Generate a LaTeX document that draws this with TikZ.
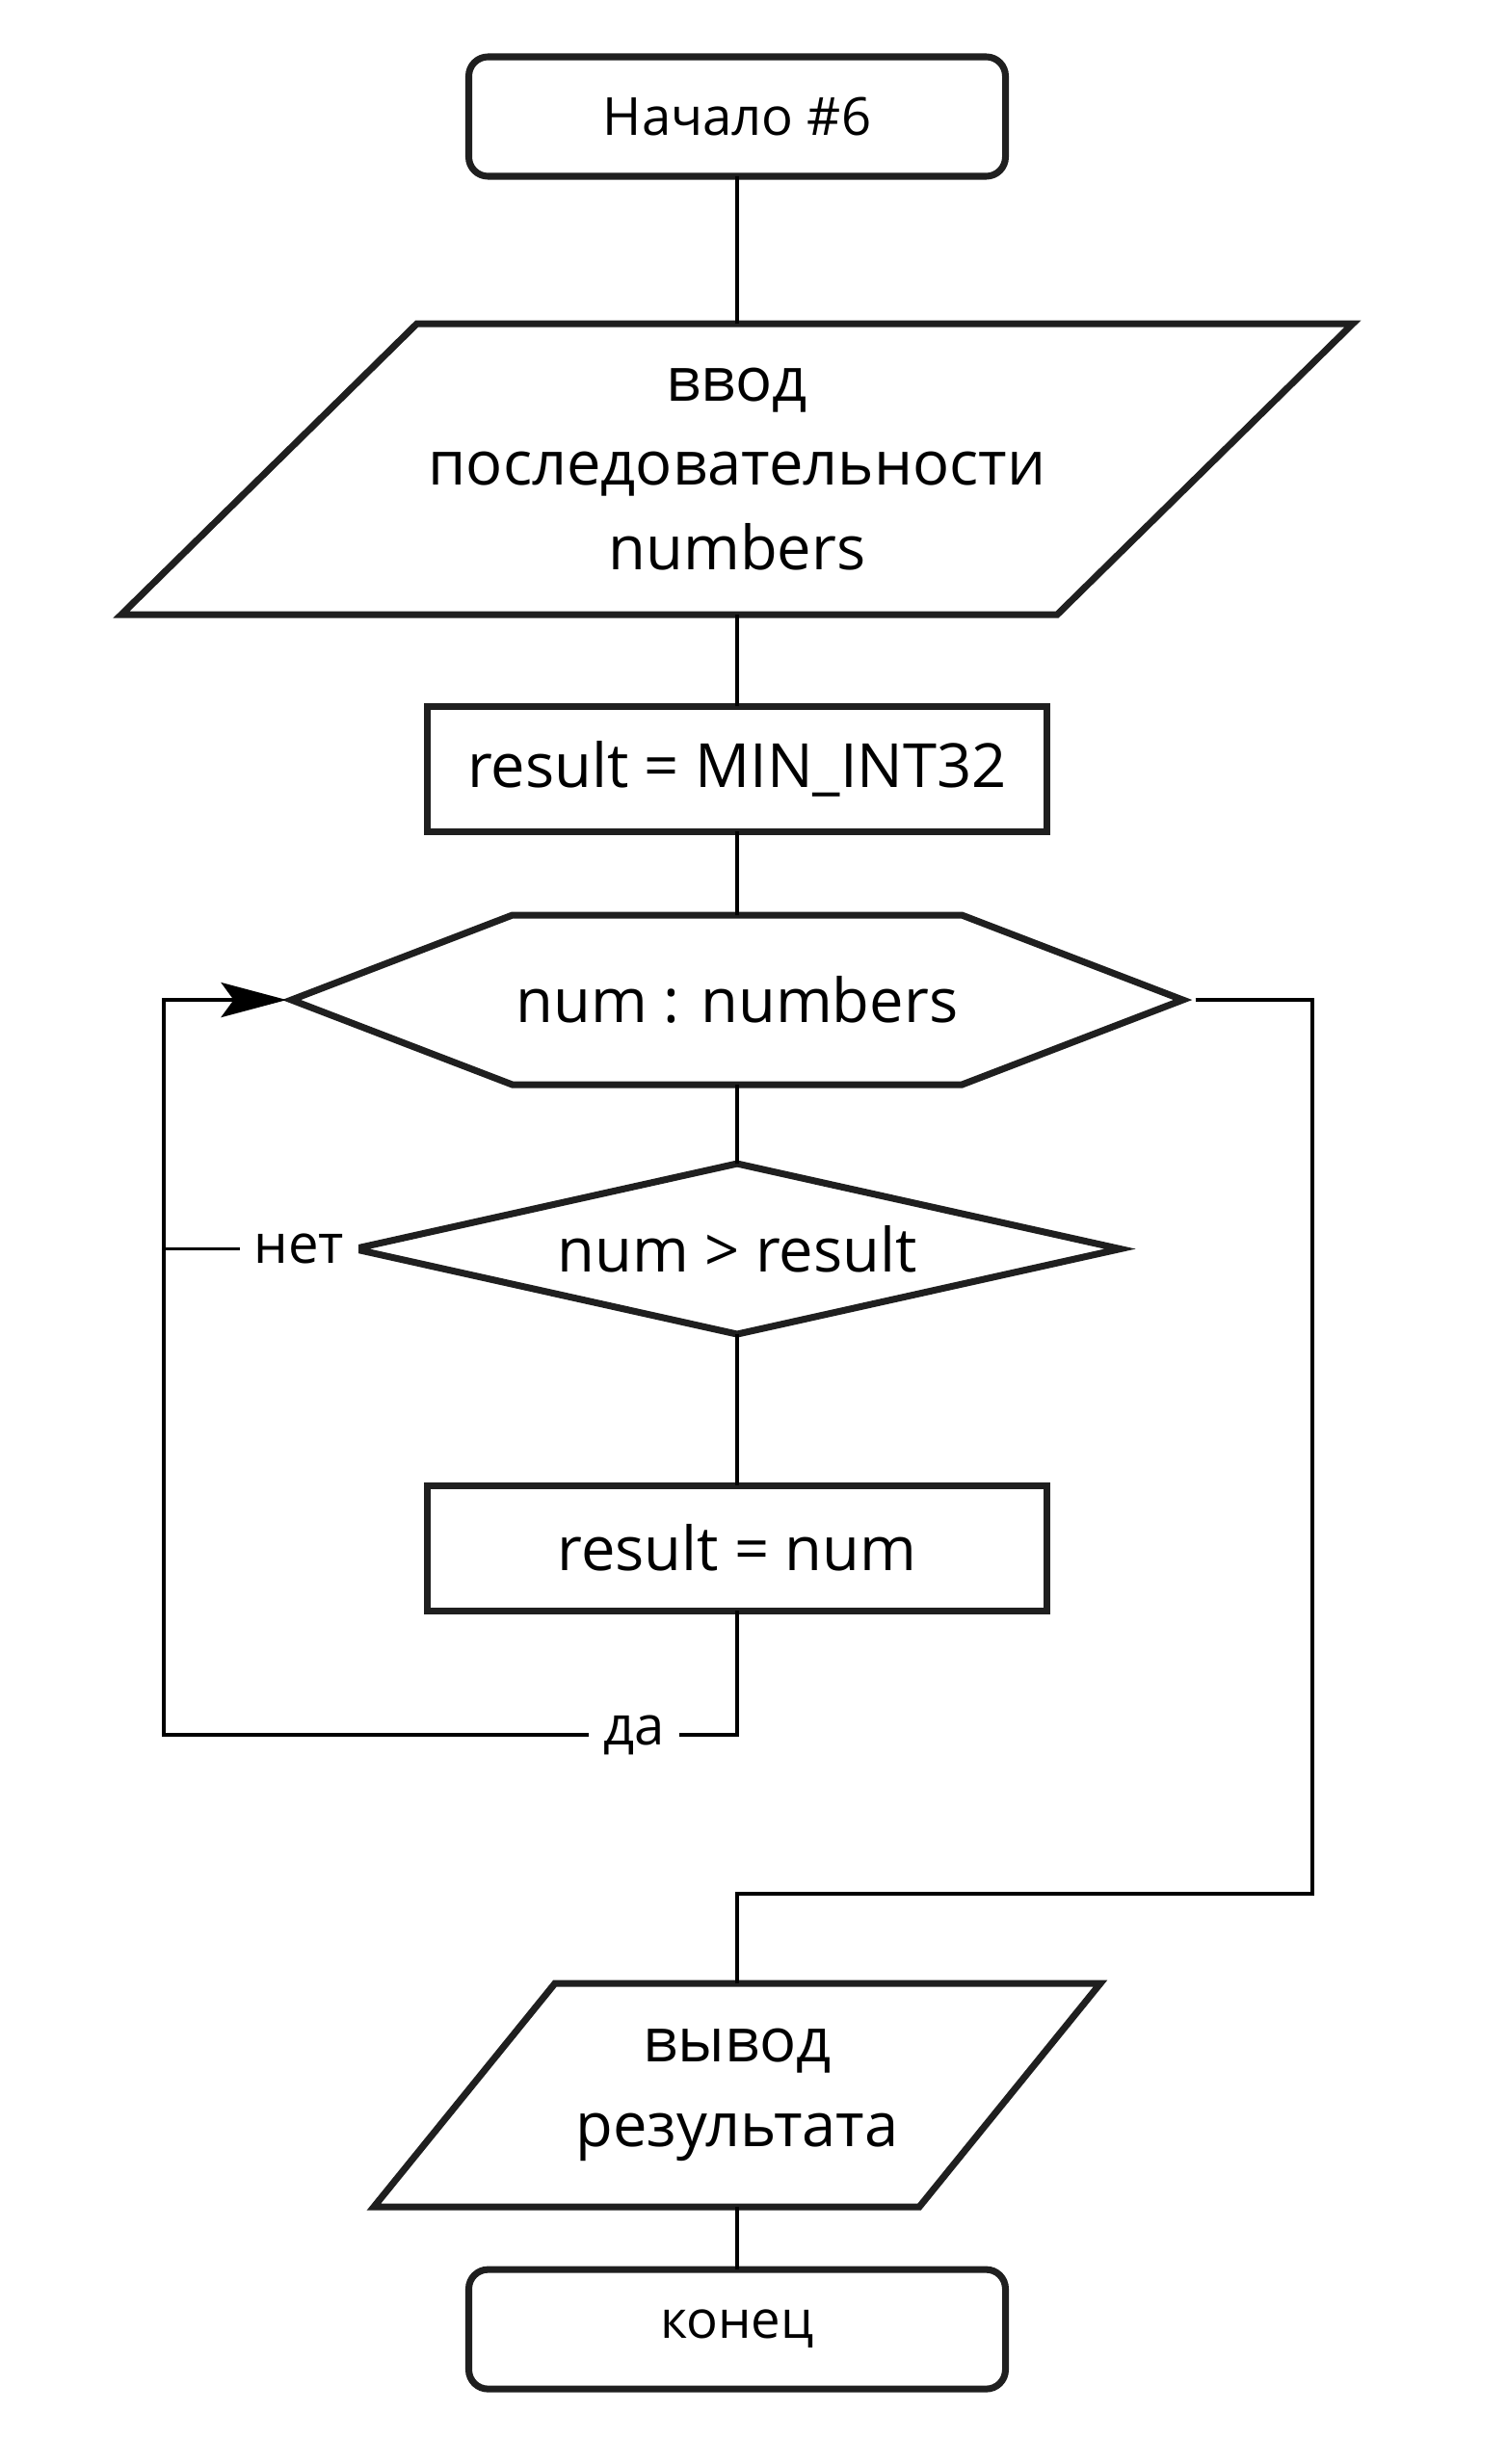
\documentclass[tikz,border=0pt]{standalone}
\usepackage{fontspec}
\setmainfont{Open Sans}
\usepackage{tikz}
\usetikzlibrary{positioning,shapes.geometric,shapes.symbols,arrows.meta}

\definecolor{shapeline}{HTML}{1F1F1F}

\begin{document}
\begin{tikzpicture}[
    every node/.style={inner sep=0pt, outer sep=0pt},
    base/.style={draw=shapeline, line width=2pt, align=center,
      font=\fontsize{18}{25}\selectfont},
    terminal/.style={base, rectangle, rounded corners=0.2cm,
      minimum width=5.57cm, minimum height=1.24cm, font=\fontsize{15.5}{18}\selectfont},
    io/.style={base, trapezium, trapezium stretches body=true},
    process/.style={base, rectangle, minimum width=6.43cm, minimum height=1.3cm},
    loopbox/.style={base, signal, signal to=west and east, signal pointer angle=42,
      minimum width=9.25cm, minimum height=1.76cm},
    decision/.style={base, diamond, aspect=4.5, minimum width=7.95cm, minimum height=1.77cm},
    line/.style={draw=black, line width=1.1pt},
    arrow/.style={line, -{Stealth[length=0.68cm, width=0.36cm, inset=0.13cm]}},
    lbl/.style={fill=white, inner xsep=0.15cm, inner ysep=0.05cm,
      font=\fontsize{16}{18}\selectfont}
  ]

  \useasboundingbox (0,0) rectangle (15.63,-25.58);

  % Blocks top to bottom
  \node[terminal] (start) at (7.65,-1.21) {Начало \#6};
  \node[io, trapezium left angle=34.5, trapezium right angle=145.5,
    minimum width=12.78cm, minimum height=3.02cm,
    below=1.53cm of start] (input) {ввод\\последовательности\\numbers};
  \node[process, below=0.95cm of input] (init) {result = MIN\_INT32};
  \node[loopbox, below=0.87cm of init] (loop) {num : numbers};
  \node[decision, below=0.82cm of loop] (cmp) {num > result};
  \node[process, below=1.57cm of cmp] (upd) {result = num};
  \node[io, trapezium left angle=36.2, trapezium right angle=143.8,
    minimum width=7.54cm, minimum height=2.32cm,
    below=3.87cm of upd] (output) {вывод\\результата};
  \node[terminal, below=0.65cm of output] (stop) {конец};

  % Turning points of the loop
  \coordinate (back) at (1.70,-18.01);
  \coordinate (exit) at (13.62,-19.66);

  % Straight links
  \draw[line] (start) -- (input);
  \draw[line] (input) -- (init);
  \draw[line] (init) -- (loop);
  \draw[line] (loop) -- (cmp);
  \draw[line] (cmp) -- (upd);
  \draw[line] (output) -- (stop);

  % Branches
  \draw[line] (cmp.west) -- node[lbl, pos=0.29] {нет} (cmp.west -| back);
  \draw[arrow, shorten >=0.05cm] (upd.south) |- node[lbl, pos=0.59] {да} (back)
    |- (loop.west);
  \draw[line, shorten <=0.13cm] (loop.east) -| (exit) -| (output.north);

\end{tikzpicture}
\end{document}
